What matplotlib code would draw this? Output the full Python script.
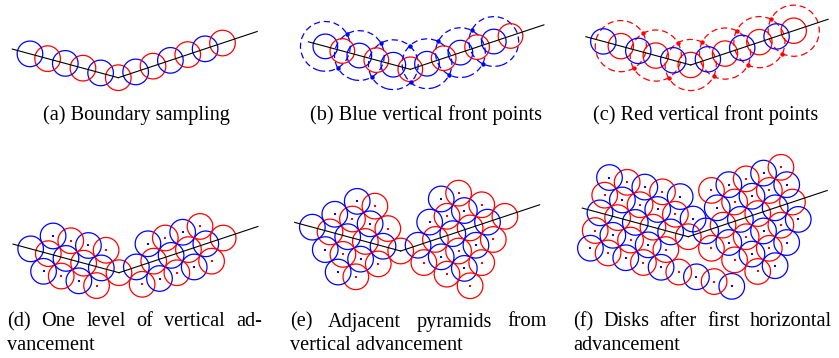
import numpy as np
import matplotlib
matplotlib.use("Agg")
import matplotlib.pyplot as plt
from matplotlib.patches import Circle
from matplotlib.transforms import Affine2D

W, H = 839, 358
BLUE = '#0000ff'
RED = '#ff0000'
COL = {'b': BLUE, 'r': RED}
R_DISK = 0.70        # disk radius in lattice steps
R_FRONT = 1.414      # radius of the front circles (2 disk radii)
LINE_LEFT, LINE_RIGHT = 6.0, 8.0   # polyline length on each side, in steps

# corner of the polyline (px), step length (px) for each panel
corner = {'a': (118.3, 77.7), 'b': (410.3, 69.3), 'c': (690.7, 65.0),
          'd': (119.0, 272.7), 'e': (400.7, 251.0), 'f': (688.3, 236.7)}
step = {'a': 18.3, 'b': 17.6, 'c': 18.1, 'd': 18.3, 'e': 18.3, 'f': 18.3}
ANG_LEFT, ANG_RIGHT = 15.1, 18.4

# disks: rows of (m, first k, colours); k counts steps away from the corner,
# m counts rows off the polyline (positive = above)
boundary_left = [(0, 1, 'brbrb')]
boundary_right = [(0, 0, 'rbrbrbr')]

d_left = boundary_left + [(1, 1, 'rbrb'), (-1, 1, 'rbrb')]
d_right = boundary_right + [(1, 2, 'brbr'), (-1, 1, 'rbrbr')]

e_left = boundary_left + [(1, 1, 'rbrb'), (2, 2, 'rb'), (-1, 1, 'rbrb'), (-2, 2, 'rb')]
e_right = boundary_right + [(1, 2, 'brbr'), (2, 3, 'br'), (-1, 1, 'rbrbr'),
                            (-2, 2, 'rbr'), (-3, 3, 'r')]

f_left = boundary_left + [(1, 0, 'brbrbr'), (2, 1, 'brbrb'), (-1, 1, 'rbrbr'),
                          (-2, -3, 'brbrbrbrb')]
f_right = boundary_right + [(1, 2, 'brbrb'), (2, 2, 'rbrbr'), (-1, 1, 'rbrbrb'),
                            (-2, 2, 'rbrb'), (-3, 3, 'rb')]

# front circles and front points of panels (b) and (c)
b_dashed_left, b_dashed_right = [1, 3, 5], [1, 3, 5]
b_front_left = [(2, 1), (2, -1), (4, 1), (4, -1), (0.38, 1.27), (-0.21, -0.72)]
b_front_right = [(2, 1), (2, -1), (4, 1), (4, -1)]
c_dashed_left, c_dashed_right = [2, 4], [0, 2, 4, 6]
c_front_left = [(1, 1), (1, -1), (3, 1), (3, -1)]
c_front_right = [(1, 1), (1, -1), (3, 1), (3, -1), (5, 1), (5, -1)]

captions_top = {'a': '(a) Boundary sampling', 'b': '(b) Blue vertical front points',
                'c': '(c) Red vertical front points'}
captions_bottom = {'d': ['(d) One level of vertical ad-', 'vancement'],
                   'e': ['(e) Adjacent pyramids from', 'vertical advancement'],
                   'f': ['(f) Disks after first horizontal', 'advancement']}

fig = plt.figure(figsize=(W / 100, H / 100), dpi=100)
ax = fig.add_axes([0, 0, 1, 1])
ax.set_xlim(0, W)
ax.set_ylim(H, 0)
ax.axis('off')


def lattice(p, side):
    vx, vy = corner[p]
    s = step[p]
    t = np.radians(ANG_LEFT if side < 0 else ANG_RIGHT)
    dx, dy = side * np.cos(t), -np.sin(t)
    ux, uy = -side * np.sin(t), -np.cos(t)
    M = np.array([[s * dx, s * ux, vx], [s * dy, s * uy, vy], [0, 0, 1]])
    return Affine2D(M) + ax.transData


def disks(T, rows, only=None, dots=False, z=2):
    for m, k0, cols in rows:
        for i, c in enumerate(cols):
            if only and c != only:
                continue
            k = k0 + i
            ax.add_patch(Circle((k, m), R_DISK, transform=T, fill=False,
                                ec=COL[c], lw=0.9, zorder=z))
            if dots and m != 0:
                ax.plot([k], [m], 's', color=COL[c], ms=2.0, mew=0,
                        transform=T, zorder=z)


def polyline(p):
    ax.plot([0, LINE_LEFT], [0, 0], color='black', lw=0.8, transform=lattice(p, -1), zorder=5)
    ax.plot([0, LINE_RIGHT], [0, 0], color='black', lw=0.8, transform=lattice(p, 1), zorder=5)


# (a)
disks(lattice('a', -1), boundary_left)
disks(lattice('a', 1), boundary_right)
polyline('a')

# (b) blue front, (c) red front
for p, col, first, second, dl, dr, fl, fr in [
        ('b', BLUE, 'b', 'r', b_dashed_left, b_dashed_right, b_front_left, b_front_right),
        ('c', RED, 'r', 'b', c_dashed_left, c_dashed_right, c_front_left, c_front_right)]:
    TL, TR = lattice(p, -1), lattice(p, 1)
    for T, ks in [(TL, dl), (TR, dr)]:
        for k in ks:
            ax.add_patch(Circle((k, 0), R_FRONT, transform=T, fill=False, ec=col,
                                lw=0.9, ls=(0, (5, 3)), zorder=1))
    for z, c in [(2, first), (3, second)]:
        disks(TL, boundary_left, only=c, z=z)
        disks(TR, boundary_right, only=c, z=z)
    for T, pts in [(TL, fl), (TR, fr)]:
        ax.plot([q[0] for q in pts], [q[1] for q in pts], 'o', color=col, ms=3.2,
                mew=0, transform=T, zorder=6)
    polyline(p)

# (d) (e) (f)
for p, left, right in [('d', d_left, d_right), ('e', e_left, e_right), ('f', f_left, f_right)]:
    disks(lattice(p, -1), left, dots=True)
    disks(lattice(p, 1), right, dots=True)
    polyline(p)

# captions
font = dict(family='Liberation Serif', size=14.6, color='black')
top_x = {'a': 136.5, 'b': 426, 'c': 706}
for p, txt in captions_top.items():
    ax.text(top_x[p], 115, txt, ha='center', va='center', **font)

renderer = fig.canvas.get_renderer()
bottom_span = {'d': (7, 262), 'e': (290, 547), 'f': (573, 832)}
for p, (first, second) in captions_bottom.items():
    x0, x1 = bottom_span[p]
    words = [ax.text(0, 322, w, ha='left', va='center', **font) for w in first.split()]
    widths = [t.get_window_extent(renderer).width for t in words]
    gap = (x1 - x0 - sum(widths)) / (len(words) - 1)
    x = x0
    for t, w in zip(words, widths):
        t.set_x(x)
        x += w + gap
    ax.text(x0, 346, second, ha='left', va='center', **font)

fig.savefig('out.png', dpi=100)
